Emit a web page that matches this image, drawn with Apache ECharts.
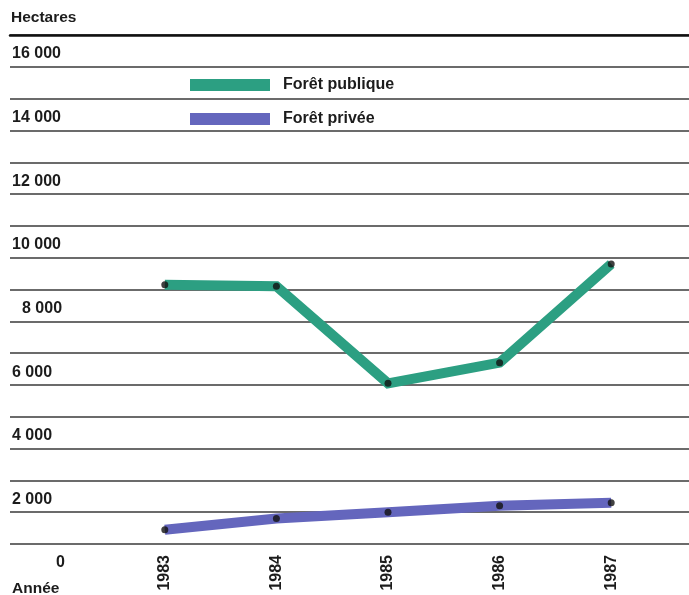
<!DOCTYPE html>
<html>
<head>
<meta charset="utf-8">
<script src="https://cdn.jsdelivr.net/npm/echarts@6/dist/echarts.min.js"></script>
<style>html,body{margin:0;padding:0;background:#fff}#c{width:689px;height:595px}</style>
</head>
<body>
<div id="c"></div>
<script>
const years = ['1983', '1984', '1985', '1986', '1987'];
const foretPublique = [8150, 8100, 5050, 5700, 8800];
const foretPrivee = [450, 800, 1000, 1200, 1300];
const yTickLabels = {0: '0', 2000: '2 000', 4000: '4 000', 6000: '6 000', 8000: '8 000', 10000: '10 000', 12000: '12 000', 14000: '14 000', 16000: '16 000'};

const FONT = "'Liberation Sans', Arial, sans-serif";
const TXT = '#1c1c1c';
const GREEN = '#2c9f82';
const PURPLE = '#6466bd';
const LBL = 16;

const chart = echarts.init(document.getElementById('c'), null, {renderer: 'canvas'});
chart.setOption({
  backgroundColor: '#fff',
  animation: false,
  title: [
    {text: 'Hectares', left: 11, top: 10, padding: 0,
     textStyle: {fontFamily: FONT, fontSize: 15.5, fontWeight: 'bold', color: TXT}},
    {text: 'Année', left: 12, top: 581, padding: 0,
     textStyle: {fontFamily: FONT, fontSize: 15.5, fontWeight: 'bold', color: TXT}}
  ],
  legend: {
    left: 185, top: 72, orient: 'vertical',
    itemWidth: 80, itemHeight: 12, itemGap: 18,
    data: [{name: 'Forêt publique', icon: 'rect'}, {name: 'Forêt privée', icon: 'rect'}],
    textStyle: {fontFamily: FONT, fontSize: 16, fontWeight: 'bold', color: TXT, padding: [0, 0, 0, 8]}
  },
  grid: [
    {left: 10, right: 0, top: 35, bottom: 51},
    {left: 109, right: 22, top: 35, bottom: 51}
  ],
  xAxis: [
    {gridIndex: 0, type: 'value', position: 'top', min: 0, max: 1,
     axisLine: {show: true, onZero: false, lineStyle: {color: '#111', width: 2.5}},
     axisTick: {show: false}, axisLabel: {show: false}, splitLine: {show: false}},
    {gridIndex: 1, type: 'category', data: years, boundaryGap: true,
     axisLine: {show: false, onZero: false}, axisTick: {show: false},
     axisLabel: {rotate: 90, margin: 11, fontFamily: FONT, fontSize: LBL, fontWeight: 'bold', color: TXT},
     splitLine: {show: false}}
  ],
  yAxis: [
    {gridIndex: 0, type: 'value', min: 0, max: 16000, interval: 1000,
     axisLine: {show: false}, axisTick: {show: false},
     splitLine: {show: true, lineStyle: {color: '#3a3a3a', width: 1.5}},
     axisLabel: {
       inside: true, margin: 2, align: 'left', verticalAlign: 'top', padding: [11, 0, 0, 0],
       fontFamily: FONT, fontSize: LBL, fontWeight: 'bold', color: TXT,
       formatter: function (v) {
         const s = yTickLabels[v];
         if (s === undefined) return '';
         if (v === 0) return '{z|' + s + '}';
         if (v === 8000) return '{e|' + s + '}';
         return s;
       },
       rich: {
         z: {fontFamily: FONT, fontSize: LBL, fontWeight: 'bold', color: TXT, padding: [0, 0, 0, 44]},
         e: {fontFamily: FONT, fontSize: LBL, fontWeight: 'bold', color: TXT, padding: [0, 0, 0, 10]}
       }
     }},
    {gridIndex: 1, type: 'value', min: 0, max: 16000, show: false, splitLine: {show: false}}
  ],
  series: [
    {name: 'Forêt publique', type: 'line', xAxisIndex: 1, yAxisIndex: 1, data: foretPublique,
     showSymbol: false, symbol: 'none', color: GREEN,
     lineStyle: {color: GREEN, width: 10, cap: 'butt', join: 'miter'}},
    {name: 'Forêt privée', type: 'line', xAxisIndex: 1, yAxisIndex: 1, data: foretPrivee,
     showSymbol: false, symbol: 'none', color: PURPLE,
     lineStyle: {color: PURPLE, width: 10, cap: 'butt', join: 'miter'}},
    {name: 'pts1', type: 'scatter', xAxisIndex: 1, yAxisIndex: 1, data: foretPublique,
     symbolSize: 7, itemStyle: {color: '#111'}, z: 5},
    {name: 'pts2', type: 'scatter', xAxisIndex: 1, yAxisIndex: 1, data: foretPrivee,
     symbolSize: 7, itemStyle: {color: '#111'}, z: 5}
  ]
});
</script>
</body>
</html>
